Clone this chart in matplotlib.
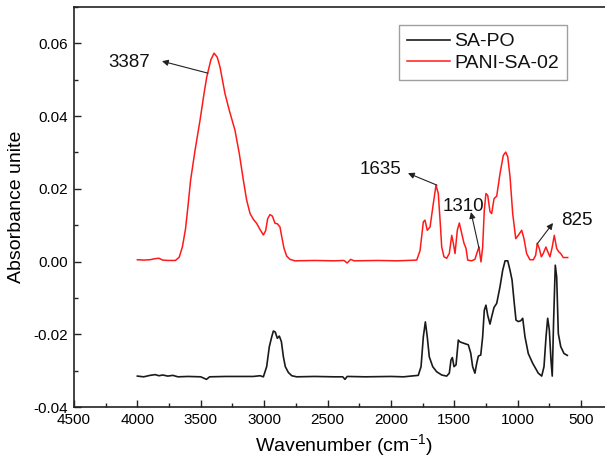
import matplotlib
matplotlib.use("Agg")
import matplotlib.pyplot as plt
from matplotlib.ticker import MultipleLocator, FormatStrFormatter

# SA-PO spectrum (black), wavenumber in cm-1 and absorbance
sapo_wn = [4000, 3950, 3900, 3860, 3830, 3800, 3760, 3720, 3680, 3600, 3500,
           3455, 3430, 3300, 3200, 3085, 3032, 3006, 2980, 2959, 2940, 2927,
           2912, 2896, 2880, 2864, 2848, 2833, 2809, 2782, 2743, 2600, 2450,
           2380, 2362, 2345, 2200, 2000, 1900, 1784, 1762, 1744, 1728, 1713,
           1697, 1670, 1639, 1599, 1560, 1539, 1526, 1515, 1502, 1486, 1468,
           1455, 1423, 1389, 1370, 1355, 1337, 1323, 1310, 1291, 1276, 1263,
           1250, 1236, 1218, 1205, 1186, 1165, 1139, 1118, 1099, 1078, 1060,
           1044, 1029, 1013, 995, 976, 960, 942, 916, 881, 837, 810, 792,
           776, 763, 750, 737, 727, 716, 703, 692, 679, 660, 634, 608]
sapo_abs = [-0.0315, -0.0317, -0.0313, -0.0311, -0.0314, -0.0312, -0.0315,
            -0.0313, -0.0317, -0.0316, -0.0317, -0.0324, -0.0317, -0.0316,
            -0.0316, -0.0316, -0.0314, -0.0317, -0.0289, -0.0234, -0.0207,
            -0.0191, -0.0194, -0.0211, -0.0205, -0.0220, -0.0262, -0.0289,
            -0.0305, -0.0314, -0.0317, -0.0316, -0.0317, -0.0317, -0.0324,
            -0.0316, -0.0317, -0.0316, -0.0317, -0.0313, -0.0289, -0.0207,
            -0.0166, -0.0207, -0.0262, -0.0289, -0.0303, -0.0312, -0.0315,
            -0.0307, -0.0271, -0.0264, -0.0289, -0.0284, -0.0216, -0.0221,
            -0.0225, -0.0229, -0.0252, -0.0289, -0.0307, -0.0280, -0.0260,
            -0.0257, -0.0207, -0.0134, -0.0120, -0.0148, -0.0172, -0.0152,
            -0.0126, -0.0115, -0.0069, -0.0024, 0.0002, 0.0002, -0.0024,
            -0.0051, -0.0106, -0.0161, -0.0165, -0.0163, -0.0156, -0.0207,
            -0.0253, -0.0280, -0.0307, -0.0315, -0.0289, -0.0207, -0.0156,
            -0.0188, -0.0271, -0.0315, -0.0161, -0.0010, -0.0042, -0.0198,
            -0.0234, -0.0253, -0.0258]

# PANI-SA-02 spectrum (red)
pani_wn = [4000, 3950, 3900, 3860, 3830, 3800, 3760, 3700, 3670, 3645, 3620,
           3600, 3580, 3545, 3506, 3475, 3453, 3420, 3395, 3370, 3348, 3309,
           3275, 3230, 3196, 3164, 3138, 3111, 3085, 3059, 3032, 3006, 2988,
           2972, 2954, 2935, 2914, 2896, 2875, 2862, 2843, 2822, 2796, 2756,
           2600, 2450, 2370, 2345, 2317, 2290, 2100, 1950, 1796, 1770, 1744,
           1731, 1713, 1691, 1665, 1644, 1626, 1612, 1599, 1581, 1560, 1539,
           1520, 1507, 1494, 1476, 1460, 1441, 1423, 1407, 1394, 1363, 1337,
           1318, 1305, 1297, 1289, 1276, 1263, 1250, 1236, 1218, 1205, 1186,
           1165, 1139, 1113, 1094, 1078, 1060, 1039, 1015, 995, 968, 950,
           929, 903, 876, 858, 845, 829, 813, 798, 777, 761, 745, 727, 711,
           692, 676, 660, 640, 605]
pani_abs = [0.0005, 0.0004, 0.0005, 0.0008, 0.0009, 0.0004, 0.0003, 0.0003,
            0.0012, 0.0040, 0.0090, 0.0155, 0.0224, 0.0306, 0.0388, 0.0460,
            0.0507, 0.0555, 0.0573, 0.0562, 0.0535, 0.0462, 0.0416, 0.0361,
            0.0297, 0.0224, 0.0169, 0.0132, 0.0116, 0.0105, 0.0088, 0.0073,
            0.0085, 0.0118, 0.0129, 0.0125, 0.0105, 0.0104, 0.0095, 0.0070,
            0.0036, 0.0015, 0.0006, 0.0002, 0.0003, 0.0002, 0.0003, -0.0004,
            0.0006, 0.0002, 0.0003, 0.0002, 0.0004, 0.0030, 0.0109, 0.0114,
            0.0086, 0.0095, 0.0160, 0.0210, 0.0187, 0.0114, 0.0040, 0.0013,
            0.0009, 0.0022, 0.0072, 0.0050, 0.0022, 0.0086, 0.0106, 0.0077,
            0.0050, 0.0036, 0.0004, 0.0002, 0.0006, 0.0027, 0.0040, 0.0018,
            -0.0001, 0.0040, 0.0141, 0.0187, 0.0182, 0.0137, 0.0132, 0.0173,
            0.0180, 0.0242, 0.0292, 0.0301, 0.0288, 0.0233, 0.0132, 0.0063,
            0.0072, 0.0086, 0.0063, 0.0022, 0.0005, 0.0005, 0.0017, 0.0050,
            0.0036, 0.0013, 0.0022, 0.0040, 0.0026, 0.0013, 0.0040, 0.0072,
            0.0036, 0.0027, 0.0022, 0.0011, 0.0011]

# peak labels: text, point on the curve, arrow head, label position
peak_labels = ["3387", "1635", "1310", "825"]
peak_tail = [(3443, 0.0518), (1636, 0.0210), (1305, 0.0037), (847, 0.0048)]
peak_head = [(3806, 0.0551), (1865, 0.0243), (1368, 0.0136), (721, 0.0106)]
peak_text = [(4066, 0.0548), (2078, 0.0254), (1431, 0.0152), (532, 0.0114)]

plt.rcParams["font.family"] = ["Liberation Sans", "DejaVu Sans"]
plt.rcParams["axes.unicode_minus"] = False
plt.rcParams["text.color"] = "#111111"

fig = plt.figure(figsize=(6.05, 4.61), dpi=100)
ax = fig.add_axes([74 / 605, 54 / 461, 538.7 / 605, 400 / 461])

ax.plot(sapo_wn, sapo_abs, color="#1a1a1a", lw=1.2, label="SA-PO")
ax.plot(pani_wn, pani_abs, color="#ff1a1a", lw=1.1, label="PANI-SA-02")

for lab, tail, head, txt in zip(peak_labels, peak_tail, peak_head, peak_text):
    ax.annotate("", xy=head, xytext=tail,
                arrowprops=dict(arrowstyle="-|>", color="#222222", lw=0.8,
                                mutation_scale=9, shrinkA=0, shrinkB=0))
    ax.text(txt[0], txt[1], lab, fontsize=13.5, ha="center", va="center")

ax.set_xlim(4500, 250)
ax.set_ylim(-0.04, 0.07)
ax.xaxis.set_minor_locator(MultipleLocator(250))
ax.yaxis.set_minor_locator(MultipleLocator(0.01))
ax.yaxis.set_major_formatter(FormatStrFormatter("%.2f"))
ax.set_yticks([-0.04, -0.02, 0.0, 0.02, 0.04, 0.06])
ax.set_xticks(range(500, 4501, 500))

ax.tick_params(which="both", direction="in", color="#222222", width=1.0,
               labelsize=11, top=False, right=False)
ax.tick_params(which="major", length=5, pad=4)
ax.tick_params(which="minor", length=3)
ax.spines["right"].set_visible(False)
for s in ["left", "bottom", "top"]:
    ax.spines[s].set_color("#222222")
    ax.spines[s].set_linewidth(1.2)

ax.set_xlabel(r"Wavenumber (cm$^{\mathregular{-1}}$)", fontsize=14, labelpad=4)
ax.set_ylabel("Absorbance unite", fontsize=14, labelpad=6)

leg = ax.legend(loc="upper right", bbox_to_anchor=(567 / 605, 1 - 25 / 461),
                bbox_transform=fig.transFigure, fontsize=14, fancybox=False,
                framealpha=1, edgecolor="#a0a0a0", handlelength=2.2,
                handletextpad=0.25, borderpad=0.4, labelspacing=0.2,
                borderaxespad=0)
leg.get_frame().set_linewidth(1.0)

fig.savefig("out.png", dpi=100)
